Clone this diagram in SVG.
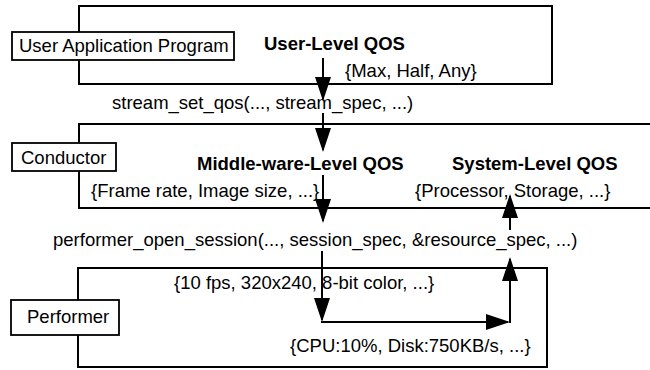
<svg xmlns="http://www.w3.org/2000/svg" width="650" height="370" viewBox="0 0 650 370">
<defs>
<style>
.t{font-family:"Liberation Sans",Arial,Helvetica,sans-serif;font-size:18.5px;fill:#000}
.b{font-family:"Liberation Sans",Arial,Helvetica,sans-serif;font-size:18.5px;font-weight:bold;fill:#000}
.box{fill:#fff;stroke:#000;stroke-width:2}
.lbl{fill:#fff;stroke:#000;stroke-width:1.8}
.c{stroke:#000;stroke-width:2;fill:none}
</style>
<marker id="ah" markerUnits="userSpaceOnUse" markerWidth="24" markerHeight="16" refX="22" refY="8" orient="auto" viewBox="0 0 24 16">
<path d="M0,0 L24,8 L0,16 Z" fill="#000"/>
</marker>
</defs>
<g id="user-layer">
<rect class="box" x="79" y="6" width="473" height="78"/>
</g>
<g id="conductor-layer">
<rect class="box" x="79" y="124" width="590" height="84"/>
</g>
<g id="performer-layer">
<rect class="box" x="78" y="268" width="469" height="99"/>
</g>
<g id="user-app">
<rect class="lbl" x="12" y="32" width="222" height="28"/>
<text class="t" x="19" y="52">User Application Program</text>
</g>
<g id="conductor">
<rect class="lbl" x="12" y="143" width="104" height="28"/>
<text class="t" x="21" y="164">Conductor</text>
</g>
<g id="performer">
<rect class="lbl" x="11" y="300" width="108" height="35"/>
<text class="t" x="27" y="323">Performer</text>
</g>
<g id="labels">
<text class="b" x="264" y="50">User-Level QOS</text>
<text class="t" x="345" y="77">{Max, Half, Any}</text>
<text class="t" x="112" y="109">stream_set_qos(..., stream_spec, ...)</text>
<text class="b" x="197" y="170">Middle-ware-Level QOS</text>
<text class="b" x="452" y="170">System-Level QOS</text>
<text class="t" x="91" y="197">{Frame rate, Image size, ...}</text>
<text class="t" x="415" y="197">{Processor, Storage, ...}</text>
<text class="t" x="53" y="246">performer_open_session(..., session_spec, &amp;resource_spec, ...)</text>
<text class="t" x="174" y="289">{10 fps, 320x240, 8-bit color, ...}</text>
<text class="t" x="290" y="352">{CPU:10%, Disk:750KB/s, ...}</text>
</g>
<g id="connectors">
<line class="c" x1="323" y1="58" x2="323" y2="99" marker-end="url(#ah)"/>
<line class="c" x1="323" y1="113" x2="323" y2="150" marker-end="url(#ah)"/>
<line class="c" x1="323" y1="175" x2="323" y2="221" marker-end="url(#ah)"/>
<line class="c" x1="510" y1="230" x2="510" y2="196" marker-end="url(#ah)"/>
<line class="c" x1="322" y1="251" x2="322" y2="320" marker-end="url(#ah)"/>
<line class="c" x1="321" y1="322" x2="508" y2="322" marker-end="url(#ah)"/>
<line class="c" x1="510" y1="323" x2="510" y2="259" marker-end="url(#ah)"/>
</g>
</svg>
